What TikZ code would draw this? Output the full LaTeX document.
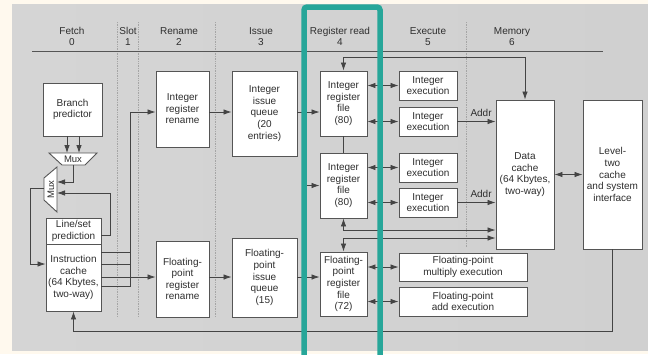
\documentclass[tikz,border=0pt]{standalone}
\usepackage{fontspec}
\setmainfont{Liberation Sans}
\usetikzlibrary{arrows.meta}

\definecolor{page}{HTML}{FFF9EE}
\definecolor{panelL}{HTML}{D5D5D5}
\definecolor{panelM}{HTML}{F5F5F5}
\definecolor{panelR}{HTML}{D0D0D0}
\definecolor{hlteal}{HTML}{27A699}
\definecolor{ink}{HTML}{2E2E2E}
\definecolor{wire}{HTML}{444444}
\definecolor{edge}{HTML}{555555}
\definecolor{sep}{HTML}{A5A5A5}

\begin{document}
\begin{tikzpicture}[x=1pt,y=-1pt,
  font=\fontsize{10}{11.6}\selectfont,
  box/.style={draw=edge, fill=white, line width=0.9pt, align=center, inner sep=1pt, text=ink},
  muxshape/.style={draw=edge, fill=white, line width=0.9pt},
  lbl/.style={align=center, text=ink, inner sep=0pt},
  wireline/.style={draw=wire, line width=0.8pt},
  arr/.style={wireline, -{Latex[length=8pt,width=5.5pt]}},
  darr/.style={wireline, {Latex[length=8pt,width=5.5pt]}-{Latex[length=8pt,width=5.5pt]}},
  sepline/.style={draw=sep, densely dotted, line width=0.7pt},
]
\useasboundingbox (0,0) rectangle (648,354);
\fill[page] (0,0) rectangle (648,354);
\shade[left color=panelL, middle color=panelM, right color=panelR] (12,4) rectangle (648,350);

% stage separators and header rule
\foreach \sx/\sy in {117/317,138/317,215/317,466/248}
  \draw[sepline] (\sx,22) -- (\sx,\sy);
\draw[draw=edge, line width=0.9pt] (32,51) -- (603,51);

% stage headings
\node[lbl] (hFetch) at (72,36.5)  {Fetch\\0};
\node[lbl] (hSlot)  at (128,36.5) {Slot\\1};
\node[lbl] (hRen)   at (179,36.5) {Rename\\2};
\node[lbl] (hIss)   at (261,36.5) {Issue\\3};
\node[lbl] (hRR)    at (340,36.5) {Register read\\4};
\node[lbl] (hEx)    at (428,36.5) {Execute\\5};
\node[lbl] (hMem)   at (512,36.5) {Memory\\6};

% fetch stage
\node[box, minimum width=59pt, minimum height=53pt] (bp) at (72.5,109.5) {Branch\\predictor};
\node[box, minimum width=55pt, minimum height=26pt] (ls) at (73.5,231) {Line/set\\prediction};
\node[box, minimum width=55pt, minimum height=67pt] (ic) at (73.5,277.5) {Instruction\\cache\\(64 Kbytes,\\two-way)};

\draw[muxshape] (49,153) -- (97,153) -- (85,165) -- (62,165) -- cycle;
\node[lbl, font=\fontsize{9.5}{10}\selectfont] (muxH) at (73,159.5) {Mux};
\draw[muxshape] (57,167) -- (57,212) -- (44,200) -- (44,178) -- cycle;
\node[lbl, rotate=90, font=\fontsize{9.5}{10}\selectfont] (muxV) at (51,189.5) {Mux};

% rename, issue, register read
\node[box, minimum width=53pt, minimum height=76pt] (irr) at (182.5,109) {Integer\\register\\rename};
\node[box, minimum width=53pt, minimum height=76pt] (frr) at (182.5,279) {Floating-\\point\\register\\rename};
\node[box, minimum width=65pt, minimum height=85pt] (iiq) at (264.5,113.5) {Integer\\issue\\queue\\(20\\entries)};
\node[box, minimum width=65pt, minimum height=79pt] (fiq) at (264.5,277.5) {Floating-\\point\\issue\\queue\\(15)};
\node[box, minimum width=47pt, minimum height=65pt] (rf1) at (343.5,103.5) {Integer\\register\\file\\(80)};
\node[box, minimum width=47pt, minimum height=65pt] (rf2) at (343.5,185.5) {Integer\\register\\file\\(80)};
\node[box, minimum width=47pt, minimum height=64pt] (frf) at (343.5,284) {Floating-\\point\\register\\file\\(72)};

% execute and memory
\node[box, minimum width=58pt, minimum height=29pt] (ex1) at (428,85.5)  {Integer\\execution};
\node[box, minimum width=58pt, minimum height=29pt] (ex2) at (428,121.5) {Integer\\execution};
\node[box, minimum width=58pt, minimum height=29pt] (ex3) at (428,167.5) {Integer\\execution};
\node[box, minimum width=58pt, minimum height=29pt] (ex4) at (428,202.5) {Integer\\execution};
\node[box, minimum width=128pt, minimum height=28pt] (fpm) at (463,267) {Floating-point\\multiply execution};
\node[box, minimum width=128pt, minimum height=29pt] (fpa) at (463,301.5) {Floating-point\\add execution};
\node[box, minimum width=58pt, minimum height=149pt] (dc) at (525,174.5) {Data\\cache\\(64 Kbytes,\\two-way)};
\node[box, minimum width=59pt, minimum height=149pt] (l2) at (612.5,174.5) {Level-\\two\\cache\\and system\\interface};

% routing rows and columns
\coordinate (muxHinL) at (67,153);
\coordinate (muxHinR) at (79,153);
\coordinate (muxHout) at (73,165);
\coordinate (muxVin1) at (57,182);
\coordinate (muxVin2) at (57,193);
\coordinate (muxVout) at (44,188.5);
\coordinate (lsrow)  at (0,235);
\coordinate (icrow)  at (0,264);
\coordinate (r1)     at (0,252);
\coordinate (r2)     at (0,264);
\coordinate (r4)     at (0,286);
\coordinate (introw) at (0,112);
\coordinate (fprow)  at (0,277);
\coordinate (spine)  at (130,0);
\coordinate (split)  at (304,0);
\coordinate (busTop) at (0,57);
\coordinate (busA)   at (0,230);
\coordinate (busB)   at (0,238);
\coordinate (fbrow)  at (0,331);

% fetch connections
\draw[arr] (bp.south -| muxHinL) -- (muxHinL);
\draw[arr] (bp.south -| muxHinR) -- (muxHinR);
\draw[arr] (muxHout) |- (muxVin1);
\draw[arr] (ls.east |- lsrow) -- ++(9,0) |- (muxVin2);
\draw[arr] (muxVout) -- ++(-14,0) |- (ic.west |- icrow);

% instruction cache outputs
\draw[wireline] (ic.east |- r1) -- (spine |- r1);
\draw[wireline] (ic.east |- r2) -- (spine |- r2);
\draw[wireline] (ic.east |- r4) -- (spine |- r4) -- (spine |- introw);
\draw[arr] (spine |- introw) -- (irr.west |- introw);
\draw[arr] (ic.east |- fprow) -- (frr.west |- fprow);

% rename -> issue -> register read
\draw[arr] (irr.east |- introw) -- (iiq.west |- introw);
\draw[arr] (frr.east |- fprow) -- (fiq.west |- fprow);
\draw[arr] (iiq.east |- introw) -- (rf1.west |- introw);
\draw[arr] (split |- introw) |- (rf2.west);
\draw[arr] (fiq.east |- fprow) -- (frf.west |- fprow);
\draw[wireline] (rf1.south) -- (rf2.north);

% register files <-> execution units
\draw[darr] (rf1.east |- ex1.west) -- (ex1.west);
\draw[darr] (rf1.east |- ex2.west) -- (ex2.west);
\draw[darr] (rf2.east |- ex3.west) -- (ex3.west);
\draw[darr] (rf2.east |- ex4.west) -- (ex4.west);
\draw[darr] (frf.east |- fpm.west) -- (fpm.west);
\draw[darr] (frf.east |- fpa.west) -- (fpa.west);

% address paths and memory buses
\draw[arr] (ex2.east) -- (dc.west |- ex2.east) node[lbl, pos=0.62, above=5pt] {Addr};
\draw[arr] (ex4.east) -- (dc.west |- ex4.east) node[lbl, pos=0.62, above=5pt] {Addr};
\draw[darr] (rf1.north) -- (rf1.north |- busTop) -| (dc.north);
\draw[darr] (rf2.south) |- (dc.west |- busA);
\draw[darr] (frf.north) |- (dc.west |- busB);
\draw[darr] (dc.east) -- (l2.west);
\draw[arr] (l2.south) -- (l2.south |- fbrow) -| (ic.south);

% highlight frame around the register-read stage
\begin{scope}
  \clip (0,0) rectangle (648,354);
  \draw[hlteal, line width=5.5pt, rounded corners=3pt] (304,7) rectangle (380,364);
\end{scope}
\end{tikzpicture}
\end{document}
